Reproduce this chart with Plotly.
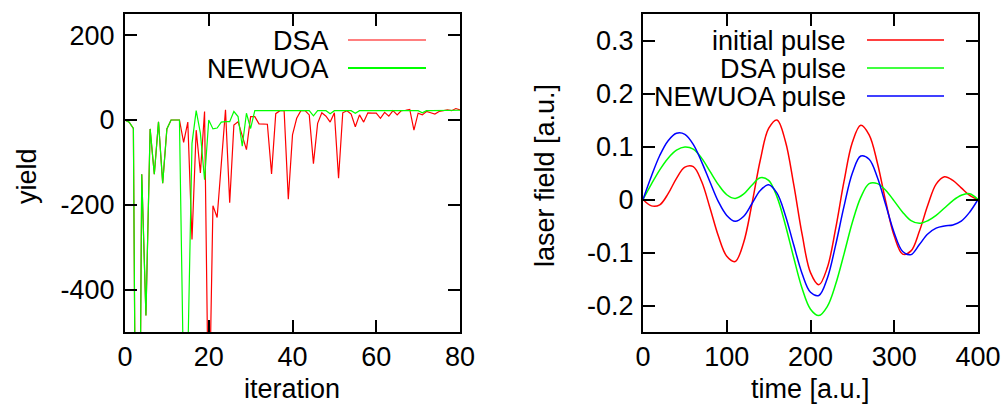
import plotly.graph_objects as go

# ---------------- data ----------------
iteration = list(range(81))
dsa_yield = [0, -5, -20, -1500, -128, -461, -21, -128, -4, -149, -21, 0, 0, 0,
             -53, -5, -282, -24, -125, 20, -760, -202, -230, -100, 24, -195, -12, -4, -35, -70,
             8, 8, -9, -9, -10, -127, 15, 22, 22, -187, -35, 4, 22, 22, 12, -103, -8, 17, 9, -5,
             17, -137, 17, 22, 14, -16, 12, -5, 17, 16, 16, 4, 18, 9, 22, 12, 22, 23, 25, -24,
             16, 12, 20, 17, 14, 20, 22, 24, 22, 27, 24]
newuoa_yield = [0, -5, -20, -1500, -128, -461, -21, -128, -4, -149, -21, 0, 0, 0,
                -630, -560, -55, 22, -31, -141, 0, -21, -19, -5, -4, -4, 20, 8, -62, 16,
                -20, 22, 22, 22, 22, 22, 22, 22, 22, 22, 22, 22, 22, 22, 22, 10, 22, 22, 22, 15,
                22, 22, 22, 22, 22, 16, 22, 22, 22, 22, 22, 22, 22, 22, 22, 22, 22, 22, 22, 22,
                22, 17, 22, 22, 22, 22, 22, 23, 23, 23, 23]

time_au = list(range(0, 401, 10))
initial_pulse = [0, -0.012, -0.010, 0.011, 0.040, 0.061, 0.062, 0.034, -0.016, -0.069,
                 -0.107, -0.117, -0.082, -0.009, 0.074, 0.134, 0.150, 0.110, 0.028, -0.066,
                 -0.138, -0.161, -0.129, -0.055, 0.034, 0.108, 0.140, 0.122, 0.068, -0.005,
                 -0.069, -0.103, -0.097, -0.060, -0.011, 0.029, 0.043, 0.036, 0.022, 0.008, 0]
dsa_pulse = [0, 0.029, 0.056, 0.078, 0.093, 0.099, 0.095, 0.078, 0.053, 0.028,
             0.009, 0.002, 0.010, 0.027, 0.041, 0.036, 0.005, -0.048, -0.110, -0.168,
             -0.207, -0.219, -0.202, -0.160, -0.103, -0.043, 0.004, 0.030, 0.030, 0.017,
             -0.003, -0.024, -0.040, -0.045, -0.040, -0.030, -0.016, -0.002, 0.008, 0.011, 0]
newuoa_pulse = [0, 0.044, 0.083, 0.111, 0.125, 0.123, 0.104, 0.071, 0.033, -0.004,
                -0.030, -0.041, -0.032, -0.008, 0.017, 0.028, 0.012, -0.030, -0.086, -0.140,
                -0.175, -0.181, -0.149, -0.086, -0.013, 0.050, 0.082, 0.076, 0.041, -0.011,
                -0.063, -0.098, -0.104, -0.085, -0.065, -0.054, -0.050, -0.048, -0.041, -0.024, 0]

left_yticks = [-400, -200, 0, 200]
left_yticktext = ["-400", "-200", "0", "200"]
left_xticks = [0, 20, 40, 60, 80]
right_yticks = [-0.2, -0.1, 0, 0.1, 0.2, 0.3]
right_yticktext = ["-0.2", "-0.1", "0", "0.1", "0.2", "0.3"]
right_xticks = [0, 100, 200, 300, 400]

# ---------------- figure ----------------
W, H = 1008, 408
FONT = "Liberation Sans, Arial, Helvetica, sans-serif"
FS = 27
RED, GREEN, BLUE = "#ff0000", "#00ff00", "#0000ff"


def px(x):
    return x / W


def py(y):
    return 1 - y / H


fig = go.Figure()
fig.add_trace(go.Scatter(x=iteration, y=dsa_yield, mode="lines",
                         line=dict(color=RED, width=1.2), xaxis="x", yaxis="y", showlegend=False))
fig.add_trace(go.Scatter(x=iteration, y=newuoa_yield, mode="lines",
                         line=dict(color=GREEN, width=1.2), xaxis="x", yaxis="y", showlegend=False))
fig.add_trace(go.Scatter(x=time_au, y=initial_pulse, mode="lines",
                         line=dict(color=RED, width=1.5, shape="spline"), xaxis="x2", yaxis="y2", showlegend=False))
fig.add_trace(go.Scatter(x=time_au, y=dsa_pulse, mode="lines",
                         line=dict(color=GREEN, width=1.5, shape="spline"), xaxis="x2", yaxis="y2", showlegend=False))
fig.add_trace(go.Scatter(x=time_au, y=newuoa_pulse, mode="lines",
                         line=dict(color=BLUE, width=1.5, shape="spline"), xaxis="x2", yaxis="y2", showlegend=False))

axis_style = dict(showline=True, linecolor="black", linewidth=2, mirror="allticks",
                  ticks="inside", ticklen=12, tickwidth=1.5, tickcolor="black",
                  showgrid=False, zeroline=False, automargin=False,
                  tickfont=dict(family=FONT, size=FS, color="black"))

ydom = [py(332), py(14)]
fig.update_layout(
    width=W, height=H, margin=dict(l=0, r=0, t=0, b=0, autoexpand=False),
    paper_bgcolor="white", plot_bgcolor="white", showlegend=False,
    xaxis=dict(domain=[px(125), px(460)], range=[0, 80], tickmode="array",
               tickvals=left_xticks, anchor="y", **axis_style),
    yaxis=dict(domain=ydom, range=[-500, 250], tickmode="array", ticklabelstandoff=3,
               tickvals=left_yticks, ticktext=left_yticktext, anchor="x", **axis_style),
    xaxis2=dict(domain=[px(643), px(978)], range=[0, 400], tickmode="array",
                tickvals=right_xticks, anchor="y2", **axis_style),
    yaxis2=dict(domain=ydom, range=[-0.25, 0.35], tickmode="array", ticklabelstandoff=2,
                tickvals=right_yticks, ticktext=right_yticktext, anchor="x2", **axis_style),
)

ann = []
shapes = []


def text(x, y, s, xanchor="center", angle=0):
    ann.append(dict(x=px(x), y=py(y), xref="paper", yref="paper", text=s, showarrow=False,
                    xanchor=xanchor, yanchor="middle", textangle=angle,
                    font=dict(family=FONT, size=FS, color="black")))


# axis titles
text(292, 389, "iteration")
text(27, 176, "yield", angle=-90)
text(810, 389, "time [a.u.]")
text(545, 176, "laser field [a.u.]", angle=-90)

# legends
legend_left = [("DSA", RED, 40, 1.2), ("NEWUOA", GREEN, 68, 1.8)]
for label, col, yy, lw in legend_left:
    text(331, yy + 1, label, xanchor="right")
    shapes.append(dict(type="line", xref="paper", yref="paper", x0=px(348), x1=px(426),
                       y0=py(yy), y1=py(yy), line=dict(color=col, width=lw)))

legend_right = [("initial pulse", RED, 40), ("DSA pulse", GREEN, 68), ("NEWUOA pulse", BLUE, 96)]
for label, col, yy in legend_right:
    text(848, yy + 1, label, xanchor="right")
    shapes.append(dict(type="line", xref="paper", yref="paper", x0=px(867), x1=px(944),
                       y0=py(yy), y1=py(yy), line=dict(color=col, width=1.5)))

fig.update_layout(annotations=ann, shapes=shapes)
fig.write_html("out.html")
